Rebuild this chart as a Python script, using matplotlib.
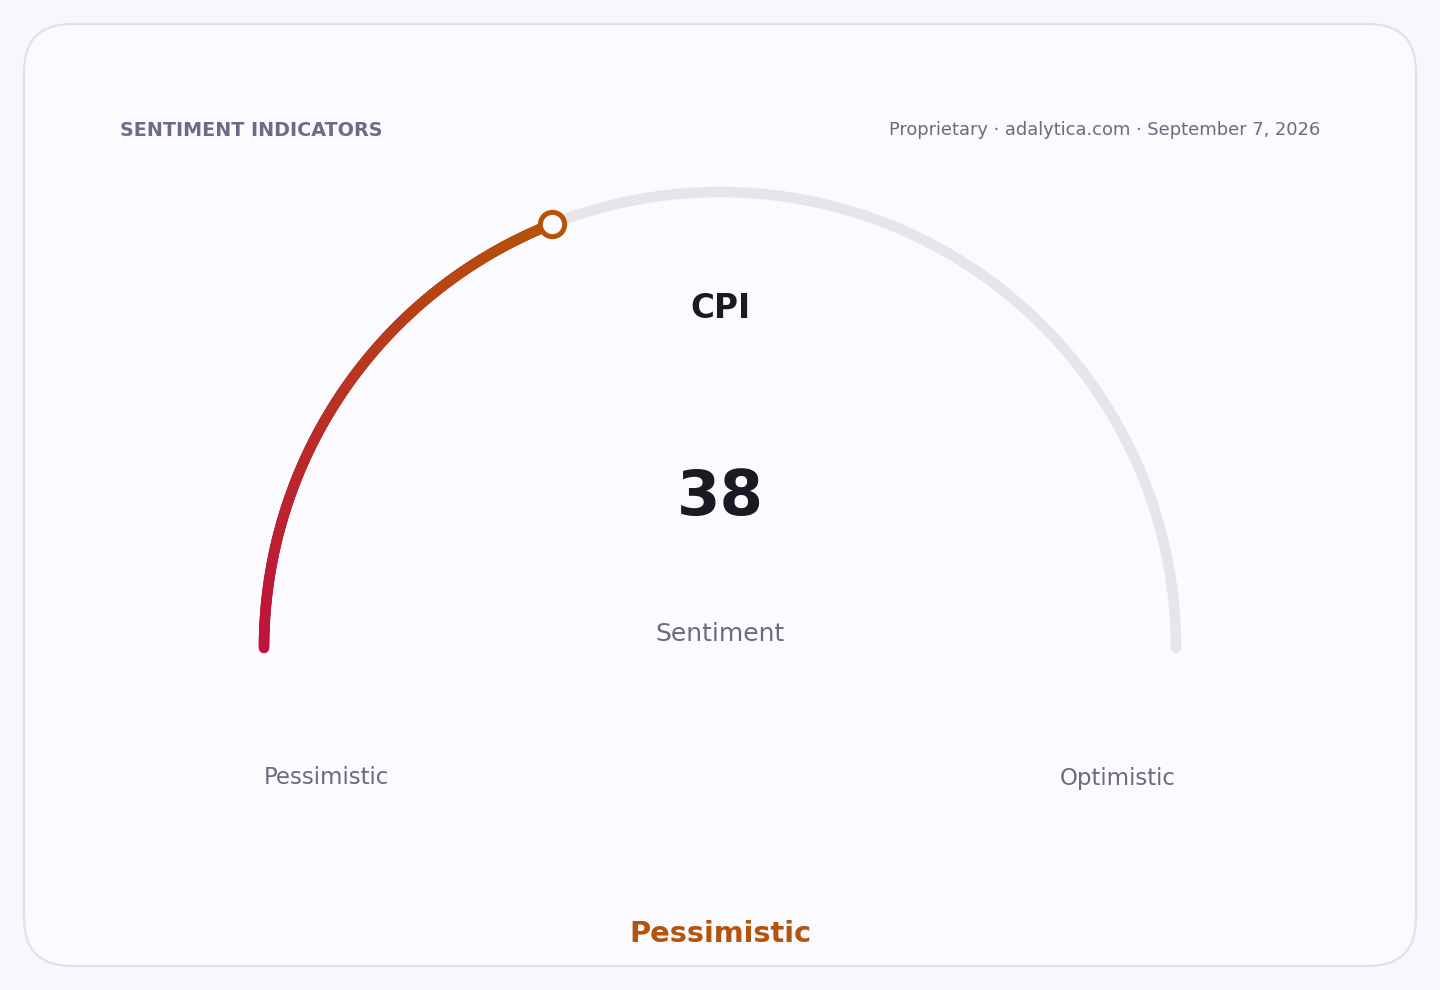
import numpy as np
import matplotlib
matplotlib.use("Agg")
import matplotlib.pyplot as plt
from matplotlib.collections import LineCollection
from matplotlib.patches import FancyBboxPatch
from matplotlib.colors import to_rgb

plt.rcParams["font.family"] = ["DejaVu Sans"]

# gauge data
title = "SENTIMENT INDICATORS"
source = "Proprietary \u00b7 adalytica.com \u00b7 September 7, 2026"
indicator = "CPI"
value = 38
v_min, v_max = 0, 100
unit_label = "Sentiment"
low_label = "Pessimistic"
high_label = "Optimistic"
status = "Pessimistic"

W, H = 1440, 990
fig = plt.figure(figsize=(W / 100, H / 100), dpi=100)
fig.patch.set_facecolor("#f7f7fc")
ax = fig.add_axes([0, 0, 1, 1])
ax.set_xlim(0, W)
ax.set_ylim(H, 0)
ax.axis("off")

# card
card = FancyBboxPatch((24, 24), 1392, 942, boxstyle="round,pad=0,rounding_size=48",
                      facecolor="#fafaff", edgecolor="#e1e1ee", linewidth=1.6)
ax.add_patch(card)

cx, cy, r = 720, 648, 456


def arc_xy(a0, a1, n=400):
    t = np.linspace(a0, a1, n)
    return cx + r * np.cos(t), cy - r * np.sin(t)


# track
tx, ty = arc_xy(np.pi, 0)
ax.plot(tx, ty, color="#e5e5ea", lw=7.6, solid_capstyle="round", zorder=2)

# value arc with gradient
frac = (value - v_min) / (v_max - v_min)
end_ang = np.pi - frac * np.pi
vx, vy = arc_xy(np.pi, end_ang, 300)
pts = np.column_stack([vx, vy]).reshape(-1, 1, 2)
segs = np.concatenate([pts[:-1], pts[1:]], axis=1)
c0 = np.array(to_rgb("#be123c"))
c1 = np.array(to_rgb("#b45309"))
s = np.linspace(0, 1, len(segs))[:, None]
cols = c0 * (1 - s) + c1 * s
lc = LineCollection(segs, colors=cols, linewidths=7.6, capstyle="round", zorder=3)
ax.add_collection(lc)

# marker at value
ax.plot([vx[-1]], [vy[-1]], "o", ms=17.5, mfc="#fafaff", mec="#b45309", mew=3.6, zorder=4)

# texts
ax.text(120, 130, title, fontsize=13.8, fontweight="bold", color="#6e6a8a",
        ha="left", va="center")
ax.text(1320, 130, source, fontsize=12.9, color="#6b6b80", ha="right", va="center")
ax.text(720, 309, indicator, fontsize=23.5, fontweight="bold", color="#1a1a24",
        ha="center", va="center")
ax.text(720, 498, str(value), fontsize=45, fontweight="bold", color="#1a1a24",
        ha="center", va="center")
ax.text(720, 634, unit_label, fontsize=18, color="#6b6b80", ha="center", va="center")
ax.text(264, 778, low_label, fontsize=16.5, color="#6b6b80", ha="left", va="center")
ax.text(1176, 778, high_label, fontsize=16.5, color="#6b6b80", ha="right", va="center")
ax.text(720, 934, status, fontsize=20.8, fontweight="bold", color="#b45309",
        ha="center", va="center")

fig.savefig("out.png", dpi=100, facecolor=fig.get_facecolor())
